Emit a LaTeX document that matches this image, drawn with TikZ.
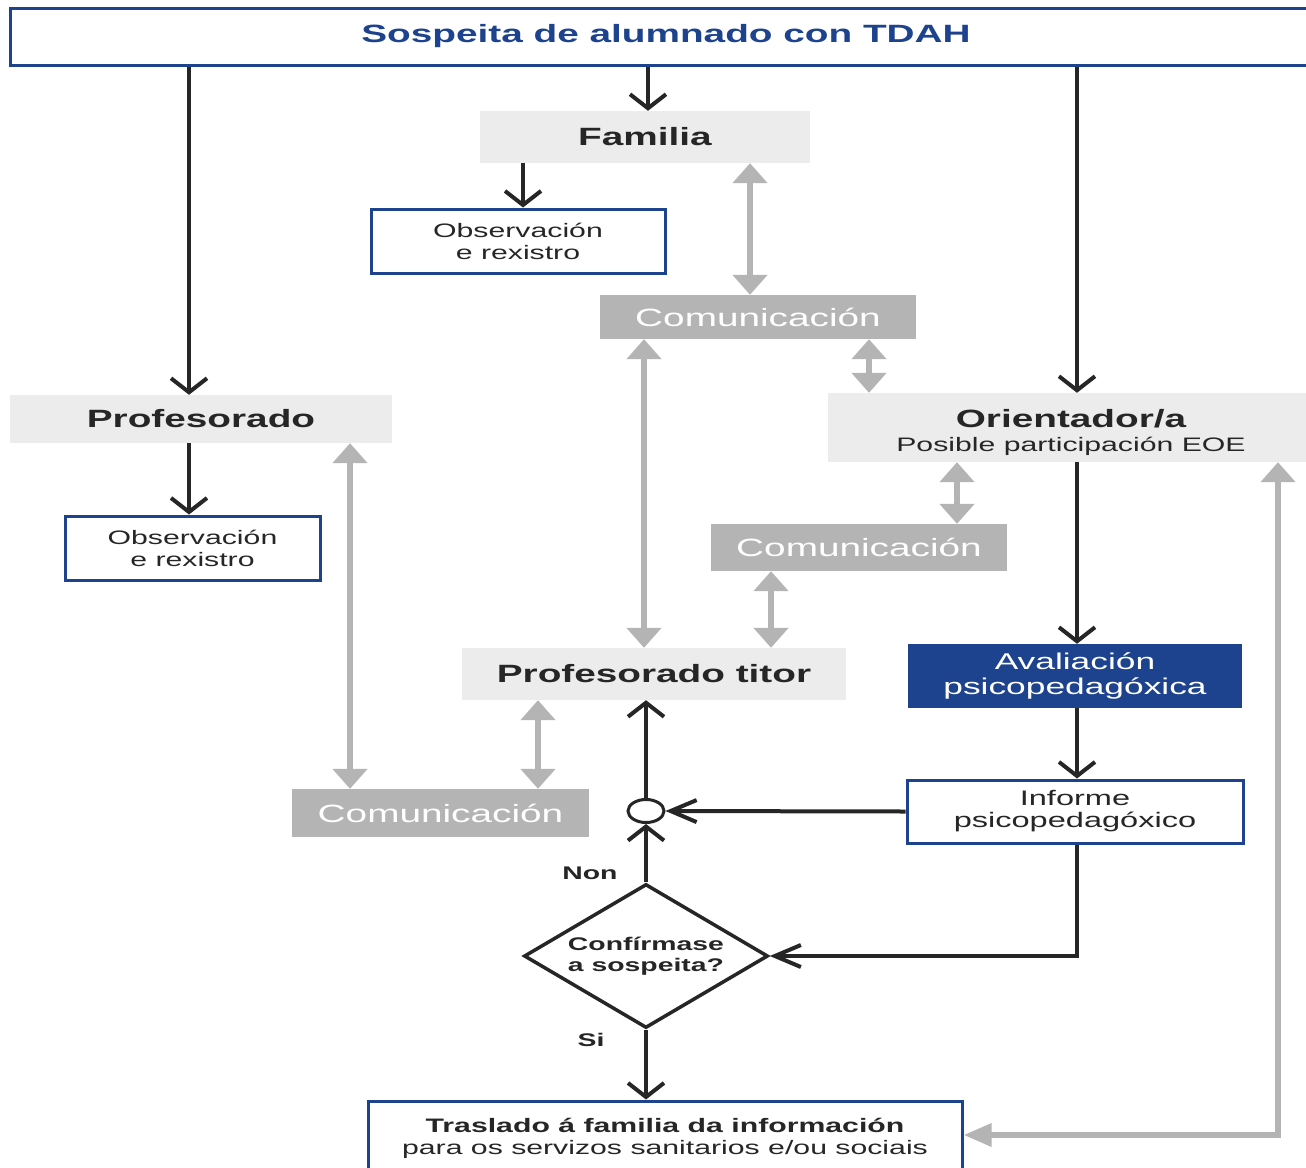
\documentclass[tikz,border=0pt]{standalone}
\usepackage{fontspec}
\setmainfont{Liberation Sans}[FakeStretch=1.55]
\usetikzlibrary{arrows.meta,shapes.geometric}

\definecolor{tdahblue}{RGB}{29,66,142}
\definecolor{boxgray}{RGB}{236,236,236}
\definecolor{comgray}{RGB}{180,180,181}
\definecolor{ink}{RGB}{38,38,38}

\tikzset{
  bluebox/.style={draw=tdahblue,line width=3pt,fill=white,inner sep=0pt,align=center,text=ink},
  greybox/.style={fill=boxgray,inner sep=0pt,align=center,text=ink},
  combox/.style={fill=comgray,inner sep=0pt,text=white,font=\fontsize{25}{28}\selectfont},
  darrv/.style={draw=ink,line width=4pt,-{Straight Barb[length=14pt,width=36pt]}},
  darrh/.style={draw=ink,line width=4pt,-{Straight Barb[length=26pt,width=22pt]}},
  garrv/.style={draw=comgray,line width=6pt,{Triangle[length=20pt,width=34pt]}-{Triangle[length=20pt,width=34pt]}},
}

\begin{document}
\begin{tikzpicture}[x=1pt,y=-1pt]
    \useasboundingbox (0,0) rectangle (1306,1167);
    \fill[white] (0,0) rectangle (1306,1167);

    \node at (666,36.5) [bluebox,minimum width=1312pt,minimum height=57pt,text=tdahblue,font=\bfseries\fontsize{25}{28}\selectfont] (title) {Sospeita de alumnado con TDAH};

    \node at (645,137) [greybox,minimum width=330pt,minimum height=52pt,font=\bfseries\fontsize{25}{28}\selectfont] (fam) {Familia};
    \node at (518,241) [bluebox,minimum width=294pt,minimum height=64pt,font=\fontsize{19.5}{22}\selectfont] (obsa) {Observación\\e rexistro};
    \node at (758,317) [combox,minimum width=316pt,minimum height=44pt] (coma) {Comunicación};

    \node at (201,419) [greybox,minimum width=382pt,minimum height=48pt,font=\bfseries\fontsize{25}{28}\selectfont] (prof) {Profesorado};
    \node at (192.5,548) [bluebox,minimum width=255pt,minimum height=64pt,font=\fontsize{19.5}{22}\selectfont] (obsb) {Observación\\e rexistro};

    \node at (1071,427.5) [greybox,minimum width=486pt,minimum height=69pt,
        label={[yshift=-5pt,align=center,text=ink,font=\fontsize{19.5}{24}\selectfont]center:{\bfseries\fontsize{25}{24}\selectfont Orientador/a}\\Posible participación EOE}] (orient) {};
    \node at (859,547.5) [combox,minimum width=296pt,minimum height=47pt] (comb) {Comunicación};

    \node at (654,674) [greybox,minimum width=384pt,minimum height=52pt,font=\bfseries\fontsize{25}{28}\selectfont] (titor) {Profesorado titor};
    \node at (1075,676) [fill=tdahblue,text=white,inner sep=0pt,align=center,minimum width=334pt,minimum height=64pt,font=\fontsize{22.8}{25}\selectfont] (aval) {Avaliación\\psicopedagóxica};
    \node at (1075,811.5) [bluebox,minimum width=336pt,minimum height=63pt,font=\fontsize{21}{22}\selectfont] (inf) {Informe\\psicopedagóxico};
    \node at (440.5,813) [combox,minimum width=297pt,minimum height=48pt] (comc) {Comunicación};

    \node at (646,811) [ellipse,draw=ink,line width=3pt,fill=white,minimum width=36pt,minimum height=23pt,inner sep=0pt] (junc) {};
    \node at (646,956) [diamond,draw=ink,line width=3.5pt,aspect=1.69,minimum width=244pt,minimum height=144pt,inner sep=0pt,align=center,text=ink,font=\bfseries\fontsize{18.3}{21}\selectfont] (dia) {Confírmase\\a sospeita?};
    \node at (590,873) [text=ink,font=\bfseries\fontsize{18.3}{21}\selectfont] (non) {Non};
    \node at (591,1040) [text=ink,font=\bfseries\fontsize{18.3}{21}\selectfont] (si) {Si};

    \node at (665,1138) [bluebox,minimum width=594pt,minimum height=74pt,font=\fontsize{19.5}{22}\selectfont] (tras) {{\bfseries Traslado á familia da información}\\para os servizos sanitarios e/ou sociais};

    % dark arrows
    \draw[darrv] ([xshift=3pt]fam.north |- title.south) -- ([xshift=3pt]fam.north);
    \draw[darrv] ([xshift=-3.5pt]obsb.north |- title.south) -- ([xshift=-3.5pt]obsb.north |- prof.north);
    \draw[darrv] ([xshift=-3.5pt]obsb.north |- prof.south) -- ([xshift=-3.5pt]obsb.north);
    \draw[darrv] ([xshift=5pt]obsa.north |- fam.south) -- ([xshift=5pt]obsa.north);
    \draw[darrv] ([xshift=2pt]aval.north |- title.south) -- ([xshift=2pt]aval.north |- orient.north);
    \draw[darrv] ([xshift=2pt]aval.north |- orient.south) -- ([xshift=2pt]aval.north);
    \draw[darrv] ([xshift=2pt]aval.south) -- ([xshift=2pt]inf.north);
    \draw[darrh] (inf.west) -- (junc.east);
    \draw[darrv] (junc.north) -- (junc.north |- titor.south);
    \draw[darrv] (dia.north) -- (junc.south);
    \draw[darrh] ([xshift=2pt]inf.south) |- (dia.east);
    \draw[darrv] (dia.south) -- (dia.south |- tras.north);

    % grey arrows
    \draw[garrv] ([xshift=-8pt]coma.north |- fam.south) -- ([xshift=-8pt]coma.north);
    \draw[garrv] ([xshift=111pt]coma.south) -- ([xshift=111pt]coma.south |- orient.north);
    \draw[garrv] ([xshift=-114pt]coma.south) -- ([xshift=-114pt]coma.south |- titor.north);
    \draw[garrv] ([xshift=98pt]comb.north |- orient.south) -- ([xshift=98pt]comb.north);
    \draw[garrv] ([xshift=-88pt]comb.south) -- ([xshift=-88pt]comb.south |- titor.north);
    \draw[garrv] ([xshift=-90.5pt]comc.north |- prof.south) -- ([xshift=-90.5pt]comc.north);
    \draw[garrv] ([xshift=97.5pt]comc.north |- titor.south) -- ([xshift=97.5pt]comc.north);
    \draw[draw=comgray,line width=6pt,{Triangle[length=28pt,width=22pt]}-{Triangle[length=20pt,width=34pt]}] ([yshift=3pt]tras.east) -| ([xshift=207pt]orient.south);
\end{tikzpicture}
\end{document}
